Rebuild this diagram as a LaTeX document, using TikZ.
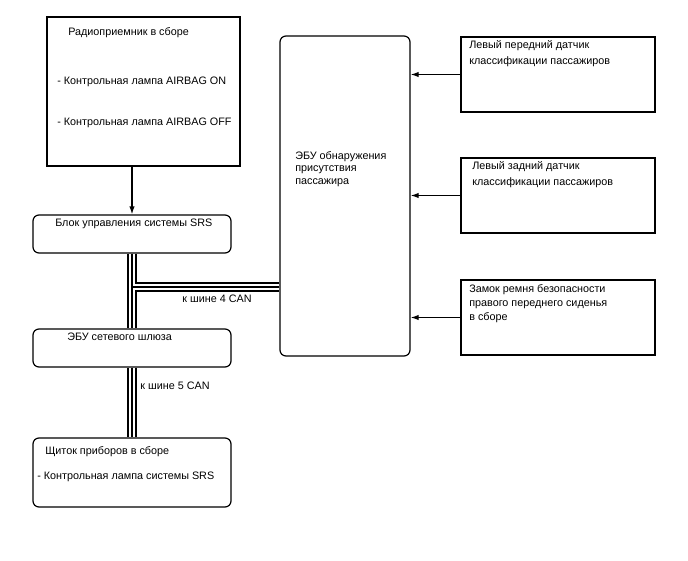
\documentclass[tikz,border=0pt]{standalone}
\usepackage{fontspec}
\setmainfont{Liberation Sans}
\usetikzlibrary{arrows.meta,fit}
\begin{document}
\begin{tikzpicture}[x=0.75pt,y=-0.75pt,font=\fontsize{8.1}{12}\selectfont]
  \tikzset{
    box/.style={draw,line width=0.9pt,inner sep=0pt},
    rbox/.style={box,rounded corners=4.5pt},
    txt/.style={anchor=west,inner sep=0pt,align=left},
    arr/.style={-{Latex[length=6pt,width=4pt]},line width=0.9pt},
    bus/.style={line width=7.5pt,
      postaction={draw=white,line width=4.6pt,
        postaction={draw=black,line width=1.5pt}}}
  }
  \useasboundingbox (0,0) rectangle (688,560);

  % left column
  \node[box,fit={(47,17) (240,166)}] (radio) {};
  \node[txt] (radiot) at (68,33) {Радиоприемник в сборе};
  \node[txt] (radioon) at (57,82) {- Контрольная лампа AIRBAG ON};
  \node[txt] (radiooff) at (57,123) {- Контрольная лампа AIRBAG OFF};

  \node[rbox,fit={(33,215) (231,253)}] (srs) {};
  \node[txt] (srst) at (55,224) {Блок управления системы SRS};

  \node[rbox,fit={(33,329) (231,367)}] (gw) {};
  \node[txt] (gwt) at (67,337) {ЭБУ сетевого шлюза};

  \node[rbox,fit={(33,438) (231,507)}] (cluster) {};
  \node[txt] (clustert) at (45,452) {Щиток приборов в сборе};
  \node[txt] (clusterl) at (37,477) {- Контрольная лампа системы SRS};

  % ECU
  \node[rbox,fit={(280,36) (410,356)}] (ecu) {};
  \node[txt,font=\fontsize{8.1}{9.4}\selectfont] (ecut) at (295,169)
    {ЭБУ обнаружения\\присутствия\\пассажира};

  % sensors
  \node[box,fit={(461,37) (655,112)}] (sfl) {};
  \node[txt] (sflt) at (469,54) {Левый передний датчик\\классификации пассажиров};
  \node[box,fit={(461,158) (655,233)}] (srl) {};
  \node[txt] (srlt) at (472,175) {Левый задний датчик\\классификации пассажиров};
  \node[box,fit={(461,280) (655,355)}] (belt) {};
  \node[txt,font=\fontsize{8.1}{10.4}\selectfont] (beltt) at (469,304)
    {Замок ремня безопасности\\правого переднего сиденья\\в сборе};

  % connections
  \draw[arr] (radio.south -| srs.north) -- (srs.north);
  \draw[arr] (sfl.west) -- (sfl.west -| ecu.east);
  \draw[arr] (srl.west) -- (srl.west -| ecu.east);
  \draw[arr] (belt.west) -- (belt.west -| ecu.east);

  \coordinate (can4) at (132,287);
  \draw[bus] (srs.south) -- (gw.north) (can4) -- (can4 -| ecu.west);
  \draw[bus] (gw.south) -- (cluster.north);
  \node[inner sep=0pt] (can4t) at (217,299) {к шине 4 CAN};
  \node[inner sep=0pt] (can5t) at (175,386) {к шине 5 CAN};
\end{tikzpicture}
\end{document}
